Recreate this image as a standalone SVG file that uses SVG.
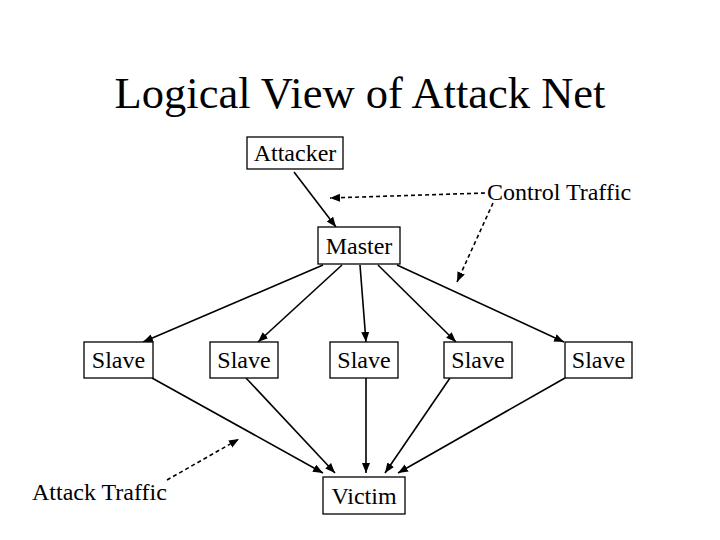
<svg xmlns="http://www.w3.org/2000/svg" width="720" height="540" viewBox="0 0 720 540">
<defs>
<style>
text{font-family:"Liberation Serif","Times New Roman",serif;fill:#000}
.lbl{font-size:24px;text-anchor:middle}
.box{fill:#fff;stroke:#000;stroke-width:1.3}
.edge{stroke:#000;stroke-width:1.6;fill:none;marker-end:url(#ah)}
.dash{stroke:#000;stroke-width:1.6;fill:none;stroke-dasharray:4 3;marker-end:url(#ah)}
</style>
<marker id="ah" markerUnits="userSpaceOnUse" markerWidth="12" markerHeight="10" refX="10" refY="4" orient="auto">
<path d="M0,0 L10,4 L0,8 Z" fill="#000"/>
</marker>
</defs>
<rect width="720" height="540" fill="#fff"/>
<text x="360" y="108" font-size="44.5" text-anchor="middle">Logical View of Attack Net</text>
<g id="connectors">
<line class="edge" x1="294" y1="172" x2="336" y2="227"/>
<line class="edge" x1="323" y1="265" x2="143" y2="342"/>
<line class="edge" x1="342" y1="265" x2="258" y2="342"/>
<line class="edge" x1="360" y1="265" x2="366" y2="342"/>
<line class="edge" x1="378" y1="265" x2="456" y2="342"/>
<line class="edge" x1="397" y1="265" x2="564" y2="342"/>
<line class="edge" x1="152" y1="378" x2="323" y2="473"/>
<line class="edge" x1="246" y1="378" x2="335" y2="473"/>
<line class="edge" x1="366" y1="378" x2="366" y2="473"/>
<line class="edge" x1="450" y1="378" x2="385" y2="473"/>
<line class="edge" x1="565" y1="378" x2="398" y2="473"/>
<line class="dash" x1="485" y1="193" x2="330" y2="198"/>
<line class="dash" x1="493" y1="203" x2="457" y2="282"/>
<line class="dash" x1="167" y1="480" x2="239" y2="439"/>
</g>
<g id="attacker"><rect class="box" x="247" y="137" width="96" height="32"/><text class="lbl" x="295" y="161">Attacker</text></g>
<g id="master"><rect class="box" x="318" y="227" width="82" height="37"/><text class="lbl" x="359" y="254">Master</text></g>
<g id="slave1"><rect class="box" x="84" y="342" width="69" height="36"/><text class="lbl" x="118.5" y="368">Slave</text></g>
<g id="slave2"><rect class="box" x="210" y="342" width="68" height="36"/><text class="lbl" x="244" y="368">Slave</text></g>
<g id="slave3"><rect class="box" x="330" y="342" width="68" height="36"/><text class="lbl" x="364" y="368">Slave</text></g>
<g id="slave4"><rect class="box" x="444" y="342" width="68" height="36"/><text class="lbl" x="478" y="368">Slave</text></g>
<g id="slave5"><rect class="box" x="565" y="342" width="67" height="36"/><text class="lbl" x="598.5" y="368">Slave</text></g>
<g id="victim"><rect class="box" x="323" y="477" width="82" height="37"/><text class="lbl" x="364" y="504">Victim</text></g>
<g id="control-traffic"><text font-size="24" x="487" y="200">Control Traffic</text></g>
<g id="attack-traffic"><text font-size="24" x="32" y="500">Attack Traffic</text></g>
</svg>
